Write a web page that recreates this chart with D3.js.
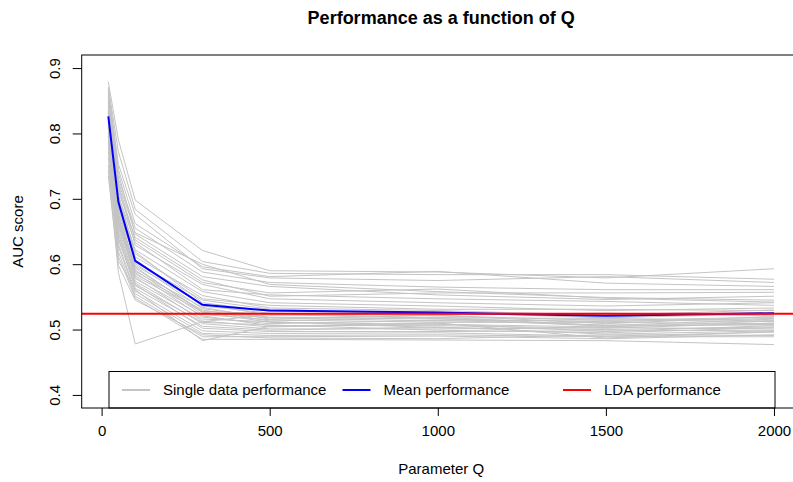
<!DOCTYPE html>
<html>
<head>
<meta charset="utf-8">
<title>Performance as a function of Q</title>
<script src="https://d3js.org/d3.v7.min.js"></script>
<style>
  body { margin: 0; background: #fff; }
  text { font-family: "Liberation Sans", Arial, sans-serif; fill: #000; }
</style>
</head>
<body>
<div id="chart"></div>
<script>
// values of Q on the x axis
var qValues = [20, 50, 100, 300, 500, 1000, 1500, 2000];

// one AUC curve per data set (grey lines)
var singleRuns = [
  [0.879, 0.790, 0.698, 0.621, 0.590, 0.588, 0.579, 0.593],
  [0.871, 0.772, 0.684, 0.604, 0.586, 0.584, 0.584, 0.577],
  [0.866, 0.745, 0.662, 0.596, 0.581, 0.589, 0.571, 0.566],
  [0.858, 0.731, 0.655, 0.588, 0.572, 0.565, 0.561, 0.561],
  [0.854, 0.726, 0.648, 0.600, 0.569, 0.558, 0.549, 0.545],
  [0.849, 0.712, 0.641, 0.576, 0.551, 0.556, 0.556, 0.557],
  [0.846, 0.718, 0.629, 0.569, 0.547, 0.541, 0.536, 0.541],
  [0.843, 0.704, 0.633, 0.561, 0.553, 0.547, 0.543, 0.537],
  [0.840, 0.699, 0.622, 0.558, 0.541, 0.536, 0.529, 0.533],
  [0.838, 0.707, 0.616, 0.547, 0.537, 0.531, 0.531, 0.529],
  [0.836, 0.693, 0.611, 0.552, 0.533, 0.529, 0.522, 0.530],
  [0.834, 0.688, 0.619, 0.541, 0.528, 0.526, 0.518, 0.524],
  [0.832, 0.701, 0.603, 0.545, 0.531, 0.523, 0.525, 0.521],
  [0.830, 0.683, 0.607, 0.536, 0.525, 0.521, 0.514, 0.519],
  [0.829, 0.676, 0.598, 0.539, 0.522, 0.527, 0.519, 0.526],
  [0.827, 0.694, 0.601, 0.532, 0.519, 0.516, 0.512, 0.517],
  [0.825, 0.671, 0.594, 0.528, 0.524, 0.518, 0.517, 0.514],
  [0.823, 0.686, 0.589, 0.534, 0.516, 0.522, 0.509, 0.520],
  [0.821, 0.668, 0.596, 0.526, 0.518, 0.513, 0.515, 0.512],
  [0.819, 0.679, 0.585, 0.530, 0.513, 0.519, 0.506, 0.516],
  [0.817, 0.664, 0.591, 0.523, 0.515, 0.511, 0.511, 0.509],
  [0.815, 0.673, 0.582, 0.527, 0.511, 0.508, 0.504, 0.513],
  [0.812, 0.659, 0.587, 0.519, 0.509, 0.514, 0.507, 0.507],
  [0.810, 0.666, 0.578, 0.521, 0.506, 0.506, 0.502, 0.510],
  [0.808, 0.655, 0.574, 0.516, 0.512, 0.503, 0.500, 0.504],
  [0.805, 0.661, 0.580, 0.513, 0.504, 0.509, 0.497, 0.506],
  [0.802, 0.650, 0.571, 0.509, 0.501, 0.501, 0.503, 0.501],
  [0.798, 0.646, 0.567, 0.511, 0.507, 0.499, 0.495, 0.503],
  [0.795, 0.641, 0.563, 0.505, 0.499, 0.504, 0.493, 0.498],
  [0.790, 0.637, 0.569, 0.502, 0.497, 0.497, 0.498, 0.499],
  [0.786, 0.631, 0.559, 0.498, 0.494, 0.495, 0.490, 0.496],
  [0.780, 0.627, 0.555, 0.494, 0.491, 0.492, 0.489, 0.489],
  [0.772, 0.619, 0.551, 0.489, 0.489, 0.490, 0.486, 0.492],
  [0.763, 0.612, 0.548, 0.485, 0.485, 0.484, 0.483, 0.477],
  [0.752, 0.605, 0.561, 0.483, 0.505, 0.510, 0.487, 0.497],
  [0.744, 0.587, 0.478, 0.512, 0.523, 0.517, 0.505, 0.508],
  [0.735, 0.598, 0.545, 0.492, 0.487, 0.486, 0.492, 0.491],
  [0.868, 0.753, 0.676, 0.593, 0.579, 0.575, 0.581, 0.572],
  [0.862, 0.739, 0.646, 0.581, 0.566, 0.553, 0.546, 0.551],
  [0.852, 0.722, 0.637, 0.572, 0.556, 0.562, 0.548, 0.542]
];

// mean curve (blue) and LDA reference (red)
var meanRun = [0.826, 0.695, 0.605, 0.538, 0.529, 0.526, 0.521, 0.525];
var ldaScore = 0.524;

var xTicks = [0, 500, 1000, 1500, 2000];
var yTicks = [0.4, 0.5, 0.6, 0.7, 0.8, 0.9];
var legendLabels = ["Single data performance", "Mean performance", "LDA performance"];
var legendColors = ["#c4c4c4", "#0000ff", "#ff0000"];

var W = 793, H = 482;
// plot region, R style (4% padding around the data range)
var plotL = 81.7, plotR = 800.6, plotT = 55, plotB = 408;

var x = d3.scaleLinear().domain([-59.2, 2079.2]).range([plotL, plotR]);
var y = d3.scaleLinear().domain([0.38, 0.92]).range([plotB, plotT]);

var svg = d3.select("#chart").append("svg")
    .attr("width", W)
    .attr("height", H);

svg.append("defs").append("clipPath").attr("id", "plotclip")
  .append("rect")
    .attr("x", plotL).attr("y", plotT)
    .attr("width", plotR - plotL).attr("height", plotB - plotT);

var line = d3.line()
    .x(function(d, i) { return x(qValues[i]); })
    .y(function(d) { return y(d); });

var plot = svg.append("g").attr("clip-path", "url(#plotclip)");

plot.selectAll("path.single")
    .data(singleRuns).enter()
  .append("path")
    .attr("class", "single")
    .attr("d", line)
    .attr("fill", "none")
    .attr("stroke", "#c4c4c4")
    .attr("stroke-width", 1);

plot.append("path")
    .attr("d", line(meanRun))
    .attr("fill", "none")
    .attr("stroke", "#0000ff")
    .attr("stroke-width", 2);

plot.append("line")
    .attr("x1", plotL).attr("x2", plotR)
    .attr("y1", y(ldaScore)).attr("y2", y(ldaScore))
    .attr("stroke", "#ff0000")
    .attr("stroke-width", 2);

// axes
var xAxis = d3.axisBottom(x).tickValues(xTicks).tickSize(8).tickPadding(9)
    .tickFormat(d3.format("d"));
var gx = svg.append("g").attr("transform", "translate(0," + plotB + ")").call(xAxis);
gx.select(".domain").remove();
gx.selectAll("line").attr("stroke", "#000");
gx.selectAll("text").style("font-size", "15px").style("font-family", "Liberation Sans, Arial, sans-serif");

var yAxis = d3.axisLeft(y).tickValues(yTicks).tickSize(9)
    .tickFormat(d3.format(".1f"));
var gy = svg.append("g").attr("transform", "translate(" + plotL + ",0)").call(yAxis);
gy.select(".domain").remove();
gy.selectAll("line").attr("stroke", "#000");
gy.selectAll("text")
    .style("font-size", "15px")
    .style("font-family", "Liberation Sans, Arial, sans-serif")
    .attr("text-anchor", "middle")
    .attr("dy", null)
    .attr("x", null)
    .attr("transform", "translate(-27,0) rotate(-90)")
    .attr("dominant-baseline", "central");

// legend
var leg = svg.append("g");
leg.append("rect")
    .attr("x", 109).attr("y", 371.5)
    .attr("width", 775 - 109).attr("height", plotB - 371.5)
    .attr("fill", "#fff")
    .attr("stroke", "#000")
    .attr("stroke-width", 1);
var legItem = leg.selectAll("g.item")
    .data(legendLabels).enter()
  .append("g")
    .attr("transform", function(d, i) { return "translate(" + (122 + i * 220.5) + ",390)"; });
legItem.append("line")
    .attr("x1", 0).attr("x2", 28)
    .attr("stroke", function(d, i) { return legendColors[i]; })
    .attr("stroke-width", 2);
legItem.append("text")
    .attr("x", 41)
    .attr("dy", "0.35em")
    .style("font-size", "15px")
    .text(function(d) { return d; });

// plot box
svg.append("rect")
    .attr("x", plotL).attr("y", plotT)
    .attr("width", plotR - plotL).attr("height", plotB - plotT)
    .attr("fill", "none")
    .attr("stroke", "#000")
    .attr("stroke-width", 1);

// titles
svg.append("text")
    .attr("x", (plotL + plotR) / 2).attr("y", 24)
    .attr("text-anchor", "middle")
    .style("font-size", "18px")
    .style("font-weight", "bold")
    .text("Performance as a function of Q");

svg.append("text")
    .attr("x", (plotL + plotR) / 2).attr("y", 474)
    .attr("text-anchor", "middle")
    .style("font-size", "15px")
    .text("Parameter Q");

svg.append("text")
    .attr("transform", "translate(23," + ((plotT + plotB) / 2) + ") rotate(-90)")
    .attr("text-anchor", "middle")
    .style("font-size", "15px")
    .text("AUC score");
</script>
</body>
</html>
